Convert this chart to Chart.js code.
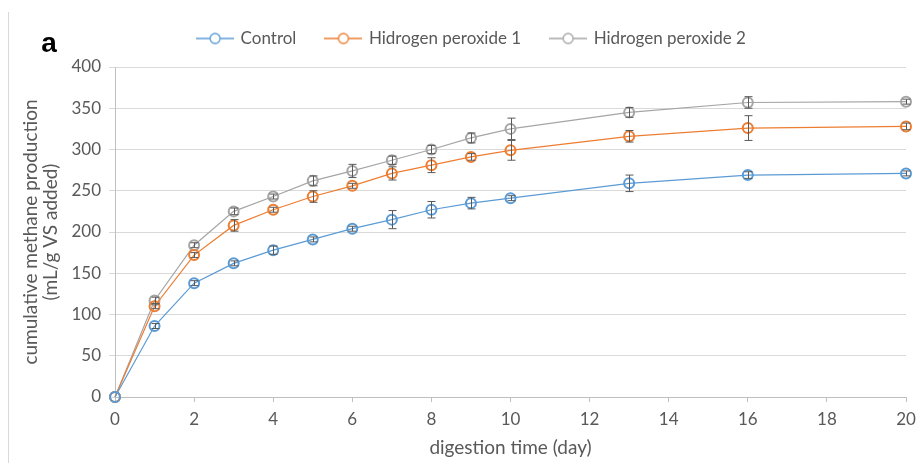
<!DOCTYPE html>
<html>
<head>
<meta charset="utf-8">
<script src="https://cdn.jsdelivr.net/npm/chart.js@4.4.1/dist/chart.umd.min.js"></script>
<style>
  html, body { margin: 0; padding: 0; background: #ffffff; }
  #wrap { position: relative; width: 917px; height: 463px; }
  #edge { position: absolute; left: 8px; top: 12px; width: 1px; height: 451px; background: #d9d9d9; }
  canvas { position: absolute; left: 0; top: 0; }
</style>
</head>
<body>
<div id="wrap">
  <div id="edge"></div>
  <canvas id="c" width="917" height="463"></canvas>
</div>
<script>
// ---- data ----
const days = [0, 1, 2, 3, 4, 5, 6, 7, 8, 9, 10, 13, 16, 20];
const seriesNames = ['Control', 'Hidrogen peroxide 1', 'Hidrogen peroxide 2'];
const controlValues = [0, 86, 138, 162, 178, 191, 204, 215, 227, 235, 241, 259, 269, 271];
const hp1Values = [0, 110, 172, 208, 227, 243, 256, 271, 281, 291, 299, 316, 326, 328];
const hp2Values = [0, 117, 184, 225, 243, 262, 274, 287, 300, 314, 325, 345, 357, 358];
const controlErrors = [0, 3, 3, 3, 5, 3, 3, 11, 10, 7, 3, 10, 4, 3];
const hp1Errors = [0, 3, 3, 7, 3, 7, 3, 8, 9, 4, 12, 7, 15, 4];
const hp2Errors = [0, 4, 3, 4, 3, 6, 8, 5, 5, 6, 13, 6, 7, 3];
const xTicks = [0, 2, 4, 6, 8, 10, 12, 14, 16, 18, 20];
const yTicks = [0, 50, 100, 150, 200, 250, 300, 350, 400];

// ---- styles ----
const colors = ['#5B9BD5', '#ED7D31', '#A5A5A5'];
const textColor = '#595959';
const fontFamily = 'Lato, "Open Sans", sans-serif';

function toPoints(vals) { return days.map((d, i) => ({ x: d, y: vals[i] })); }

function legendSymbol(color) {
  const c = document.createElement('canvas');
  c.width = 38; c.height = 14;
  const g = c.getContext('2d');
  g.strokeStyle = color; g.lineWidth = 1.3;
  g.beginPath(); g.moveTo(0, 7); g.lineTo(38, 7); g.stroke();
  g.fillStyle = '#ffffff';
  g.beginPath(); g.arc(19, 7, 5, 0, Math.PI * 2); g.fill();
  g.lineWidth = 1.3;
  g.stroke();
  return c;
}
const symbols = colors.map(legendSymbol);

const allValues = [controlValues, hp1Values, hp2Values];
const allErrors = [controlErrors, hp1Errors, hp2Errors];

const errorBarPlugin = {
  id: 'errorBars',
  afterDatasetsDraw(chart) {
    const ctx = chart.ctx;
    const xs = chart.scales.x, ys = chart.scales.y;
    ctx.save();
    ctx.strokeStyle = '#595959';
    ctx.lineWidth = 1;
    chart.data.datasets.forEach((ds, di) => {
      const errs = allErrors[di];
      ds.data.forEach((p, i) => {
        const e = errs[i];
        if (!e) return;
        const px = Math.round(xs.getPixelForValue(p.x)) + 0.5;
        const top = ys.getPixelForValue(p.y + e);
        const bot = ys.getPixelForValue(p.y - e);
        ctx.beginPath();
        ctx.moveTo(px, top); ctx.lineTo(px, bot);
        ctx.moveTo(px - 4, top); ctx.lineTo(px + 4, top);
        ctx.moveTo(px - 4, bot); ctx.lineTo(px + 4, bot);
        ctx.stroke();
      });
    });
    ctx.restore();
  }
};

const panelLabelPlugin = {
  id: 'panelLabel',
  afterDraw(chart) {
    const ctx = chart.ctx;
    ctx.save();
    ctx.fillStyle = '#000000';
    ctx.font = 'bold 28px "Liberation Sans", Arial, sans-serif';
    ctx.textAlign = 'center';
    ctx.textBaseline = 'alphabetic';
    ctx.fillText('a', 49, 52);
    ctx.restore();
  }
};

// keep the legend band at a fixed height so the plot starts where the reference does,
// and nudge the legend row to the reference's horizontal position
const legendBandPlugin = {
  id: 'legendBand',
  beforeLayout(chart) {
    const lg = chart.legend;
    if (lg && !lg._bandPatched) {
      const orig = lg.fit.bind(lg);
      lg.fit = function () { orig(); this.height = 67; };
      lg._bandPatched = true;
    }
  },
  afterLayout(chart) {
    const lg = chart.legend;
    if (lg) { lg.left += 9; lg.right += 9; }
  }
};

const datasets = allValues.map((vals, i) => ({
  label: seriesNames[i],
  data: toPoints(vals),
  borderColor: colors[i],
  backgroundColor: '#ffffff',
  borderWidth: 1.2,
  pointRadius: 5,
  pointBorderWidth: 2,
  pointBackgroundColor: 'rgba(255,255,255,0)',
  pointBorderColor: colors[i],
  pointHoverRadius: 5,
  tension: 0,
  fill: false,
  clip: false
}));

new Chart(document.getElementById('c'), {
  type: 'line',
  data: { datasets },
  options: {
    responsive: false,
    animation: false,
    events: [],
    layout: { padding: { left: 20, right: 11, top: 0, bottom: 4 } },
    plugins: {
      tooltip: { enabled: false },
      legend: {
        position: 'top',
        align: 'center',
        labels: {
          color: textColor,
          font: { family: fontFamily, size: 17 },
          usePointStyle: true,
          pointStyleWidth: 34,
          boxHeight: 14,
          padding: 30,
          generateLabels(chart) {
            return chart.data.datasets.map((ds, i) => ({
              text: ds.label,
              fillStyle: '#ffffff',
              strokeStyle: colors[i],
              lineWidth: 0,
              pointStyle: symbols[i],
              fontColor: textColor,
              hidden: false,
              datasetIndex: i
            }));
          }
        }
      }
    },
    scales: {
      x: {
        type: 'linear',
        min: 0, max: 20,
        afterBuildTicks(scale) { scale.ticks = xTicks.map(v => ({ value: v })); },
        afterFit(scale) { scale.height = 62; scale.paddingRight = 0; scale.paddingLeft = 0; },
        ticks: { color: textColor, font: { family: fontFamily, size: 17 }, padding: 7, maxRotation: 0 },
        grid: { drawOnChartArea: false, drawTicks: true, tickLength: 5, color: '#bfbfbf' },
        border: { display: true, color: '#bfbfbf', width: 1 },
        title: { display: true, text: 'digestion time (day)', color: textColor, font: { family: fontFamily, size: 19 }, padding: { top: 4, bottom: 0 } }
      },
      y: {
        min: 0, max: 400,
        afterBuildTicks(scale) { scale.ticks = yTicks.map(v => ({ value: v })); },
        afterFit(scale) { scale.width = 95; },
        ticks: { color: textColor, font: { family: fontFamily, size: 17 }, padding: 8 },
        grid: { color: '#d9d9d9', tickLength: 6, drawTicks: true },
        border: { display: true, color: '#bfbfbf', width: 1 },
        title: { display: true, text: ['cumulative methane production', '(mL/g VS added)'], color: textColor, font: { family: fontFamily, size: 19, lineHeight: 1.1 }, padding: { top: 0, bottom: 4 } }
      }
    }
  },
  plugins: [legendBandPlugin, errorBarPlugin, panelLabelPlugin]
});
</script>
</body>
</html>
